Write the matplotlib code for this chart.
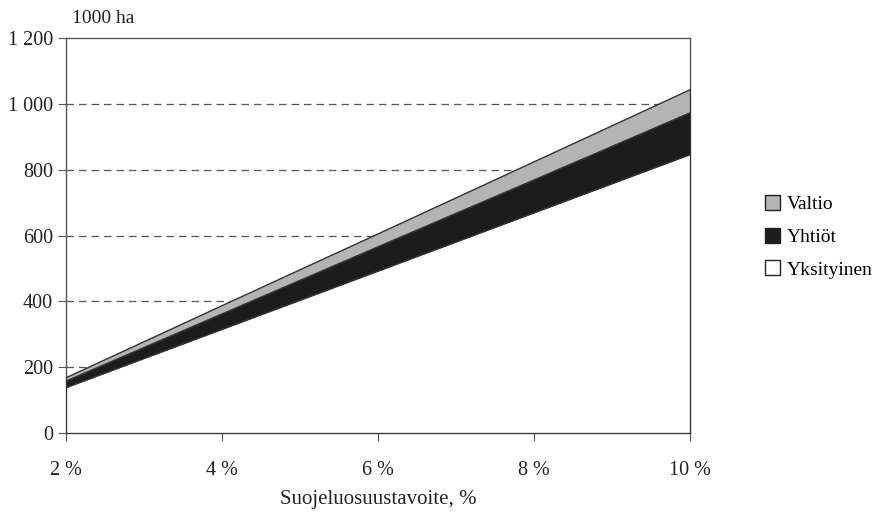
import matplotlib.pyplot as plt
from matplotlib.ticker import FuncFormatter

# suojeluosuustavoite (%) ja pinta-ala (1000 ha)
tavoite = [2, 4, 6, 8, 10]
yksityinen = [140, 317, 494, 671, 848]
yhtiot = [20, 47, 74, 100, 127]
valtio = [10, 25, 39, 55, 70]

plt.rcParams['font.family'] = ['Liberation Serif', 'DejaVu Serif']

fig = plt.figure(figsize=(8.76, 5.18), dpi=100)
ax = fig.add_axes([0.0753, 0.164, 0.7124, 0.7626])

polys = ax.stackplot(tavoite, yksityinen, yhtiot, valtio,
                     colors=['white', '#1c1c1c', '#b4b4b4'],
                     labels=['Yksityinen', 'Yhtiöt', 'Valtio'],
                     edgecolor='#333333', linewidth=1.0, zorder=3)

ax.set_xlim(2, 10)
ax.set_ylim(0, 1200)
ax.set_xticks(tavoite)
ax.set_xticklabels([f'{t} %' for t in tavoite])
ax.set_yticks(range(0, 1201, 200))
ax.yaxis.set_major_formatter(FuncFormatter(
    lambda v, p: f'{int(v):,}'.replace(',', ' ')))

for y in range(200, 1001, 200):
    ax.axhline(y, color='#555555', linestyle=(0, (6, 4)), linewidth=0.9, zorder=1)

for s in ax.spines.values():
    s.set_color('#555555')
    s.set_linewidth(1.0)
ax.tick_params(axis='both', colors='#555555', labelcolor='#222222',
               labelsize=14.5, length=6, direction='out')
ax.tick_params(axis='x', pad=14)

ax.set_xlabel('Suojeluosuustavoite, %', fontsize=15, color='#222222', labelpad=7)
fig.text(0.082, 0.955, '1000 ha', fontsize=14, color='#222222')

handles, labels = ax.get_legend_handles_labels()
leg = fig.legend(handles[::-1], labels[::-1], loc='center left',
                 bbox_to_anchor=(0.853, 0.543), frameon=False, fontsize=14,
                 handlelength=0.8, handleheight=0.8, handletextpad=0.35,
                 labelspacing=0.75)
for h in leg.legend_handles:
    h.set_edgecolor('#222222')

fig.savefig('out.png', dpi=100, facecolor='white')
